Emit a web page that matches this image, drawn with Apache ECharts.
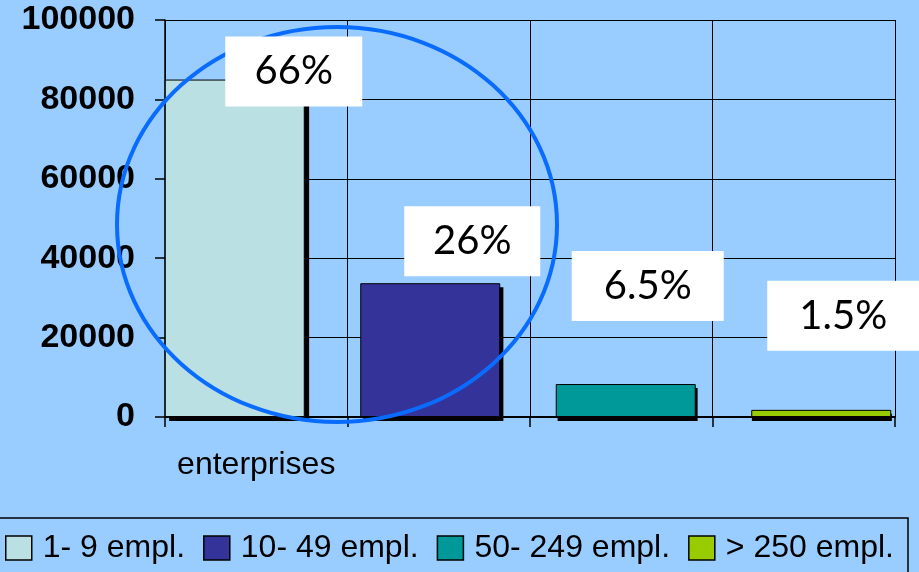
<!DOCTYPE html>
<html>
<head>
<meta charset="utf-8">
<script src="https://cdn.jsdelivr.net/npm/echarts@6/dist/echarts.min.js"></script>
<style>
html,body{margin:0;padding:0;background:#99CCFF;}
#chart{width:919px;height:572px;}
</style>
</head>
<body>
<div id="chart"></div>
<script>
// ---- data ----
const categories = ['enterprises', '', '', ''];
const seriesNames = ['1- 9 empl.', '10- 49 empl.', '50- 249 empl.', '> 250 empl.'];
const values = [85000, 33700, 8300, 1800];
const shareLabels = ['66%', '26%', '6.5%', '1.5%'];
const yMin = 0, yMax = 100000, yStep = 20000;

// ---- styles ----
const barColors = ['#BBE0E3', '#333399', '#009999', '#99CC00'];
const labelOffsets = [[59, -8], [42, -42], [22, -98], [22, -94]];
const labelWidths = [137, 136, 152, 152];
const textFont = '"Liberation Sans", Arial, sans-serif';

const chart = echarts.init(document.getElementById('chart'), null, {renderer: 'canvas'});

const barSeries = seriesNames.map((name, i) => ({
  name: name,
  type: 'bar',
  xAxisIndex: 1,
  yAxisIndex: 1,
  stack: 'all',
  barWidth: 140,
  z: 2,
  data: categories.map((c, j) => (j === i ? values[i] : '-')),
  itemStyle: {
    color: barColors[i],
    borderColor: '#000',
    borderWidth: 1
  }
}));

// drop shadows: same values on a grid shifted a few pixels right/down
const shadowSeries = {
  type: 'bar',
  name: 'shadow',
  xAxisIndex: 2,
  yAxisIndex: 2,
  barWidth: 140,
  z: 1,
  silent: true,
  data: values.slice(),
  itemStyle: {color: '#000'}
};

const labelSeries = {
  type: 'scatter',
  name: 'shares',
  xAxisIndex: 1,
  yAxisIndex: 1,
  symbol: 'circle',
  symbolSize: 0,
  silent: true,
  z: 5,
  itemStyle: {color: 'transparent', opacity: 1},
  data: values.map((v, i) => ({
    value: [i, v],
    label: {
      show: true,
      position: 'inside',
      offset: labelOffsets[i],
      width: labelWidths[i],
      height: 70,
      lineHeight: 70,
      align: 'center',
      verticalAlign: 'middle',
      backgroundColor: '#fff',
      color: '#000',
      opacity: 1,
      fontFamily: 'Lato, "Open Sans", sans-serif',
      fontSize: 40,
      formatter: () => shareLabels[i]
    }
  }))
};

const option = {
  backgroundColor: '#99CCFF',
  animation: false,
  grid: [
    {left: 165, right: 24, top: 20, bottom: 155, containLabel: false},
    {left: 137, right: -3, top: 20, bottom: 155, containLabel: false},
    {left: 142, right: -8, top: 24, bottom: 151, containLabel: false}
  ],
  xAxis: [
    {
      type: 'category', gridIndex: 0, data: categories, boundaryGap: true,
      axisLine: {show: true, lineStyle: {color: '#000', width: 2}},
      axisTick: {show: true, length: 10, interval: 0, lineStyle: {color: '#000', width: 1.5}},
      splitLine: {show: true, interval: 0, lineStyle: {color: '#000', width: 1}},
      axisLabel: {interval: 0, margin: 32, color: '#000', fontFamily: textFont, fontSize: 32}
    },
    {type: 'category', gridIndex: 1, data: categories, show: false},
    {type: 'category', gridIndex: 2, data: categories, show: false}
  ],
  yAxis: [
    {
      type: 'value', gridIndex: 0, min: yMin, max: yMax, interval: yStep,
      axisLine: {show: true, lineStyle: {color: '#000', width: 1.5}},
      axisTick: {show: true, length: 10, lineStyle: {color: '#000', width: 1.5}},
      splitLine: {show: true, lineStyle: {color: '#000', width: 1}},
      axisLabel: {margin: 30, color: '#000', fontFamily: textFont, fontWeight: 'bold', fontSize: 34,
        formatter: v => String(v)}
    },
    {type: 'value', gridIndex: 1, min: yMin, max: yMax, interval: yStep, show: false},
    {type: 'value', gridIndex: 2, min: yMin, max: yMax, interval: yStep, show: false}
  ],
  legend: {
    data: seriesNames,
    left: 5,
    top: 532,
    padding: 0,
    orient: 'horizontal',
    itemWidth: 26,
    itemHeight: 24,
    itemGap: 18,
    icon: 'rect',
    itemStyle: {borderColor: '#000', borderWidth: 1.5},
    textStyle: {color: '#000', fontFamily: textFont, fontSize: 32, padding: [0, 0, 0, 6]}
  },
  graphic: [
    {
      type: 'rect', z: 1, silent: true,
      shape: {x: -2, y: 518, width: 910, height: 60},
      style: {fill: null, stroke: '#000', lineWidth: 1.5}
    },
    {
      type: 'ellipse', z: 3, silent: true,
      shape: {cx: 337, cy: 224.5, rx: 220, ry: 197.5},
      style: {fill: null, stroke: '#0A6CFF', lineWidth: 4}
    }
  ],
  series: [shadowSeries].concat(barSeries, [labelSeries])
};

chart.setOption(option);
</script>
</body>
</html>
